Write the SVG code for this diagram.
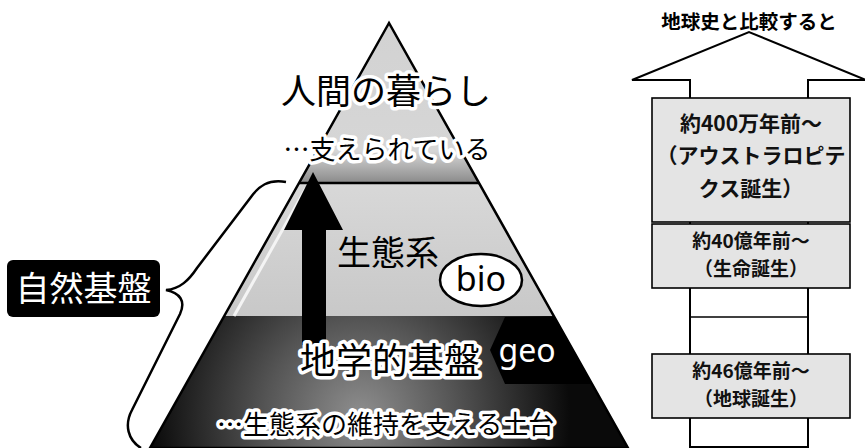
<svg xmlns="http://www.w3.org/2000/svg" width="865" height="448" viewBox="0 0 865 448">
<style>
.jp{font-family:"Noto Sans CJK JP","Noto Sans",sans-serif;}
.halo{paint-order:stroke;stroke:#fff;stroke-linejoin:round;}
.box{fill:#e4e4e4;stroke:#000;stroke-width:1.6;}
.rt{font-family:"Noto Sans CJK JP",sans-serif;font-size:21px;font-weight:700;text-anchor:middle;fill:#111;}
.rs{font-size:19px;}
.edge{fill:none;stroke:#000;stroke-width:2.5;}
</style>
<defs>
<clipPath id="tri"><polygon points="389,23 150,448 628,448"/></clipPath>
<linearGradient id="gTop" x1="0" y1="23" x2="0" y2="183" gradientUnits="userSpaceOnUse">
<stop offset="0" stop-color="#d2d2d2"/><stop offset="0.8" stop-color="#d6d6d6"/><stop offset="1" stop-color="#8a8a8a"/>
</linearGradient>
<linearGradient id="gMid" x1="0" y1="183" x2="0" y2="316" gradientUnits="userSpaceOnUse">
<stop offset="0" stop-color="#d8d8d8"/><stop offset="1" stop-color="#c8c8c8"/>
</linearGradient>
<radialGradient id="gBot" cx="360" cy="415" r="210" gradientUnits="userSpaceOnUse">
<stop offset="0" stop-color="#8e8e8e"/><stop offset="0.45" stop-color="#555"/><stop offset="1" stop-color="#0a0a0a"/>
</radialGradient>
</defs>

<g id="pyramid">
<g clip-path="url(#tri)">
<rect x="100" y="0" width="600" height="183" fill="url(#gTop)"/>
<rect x="100" y="183" width="600" height="133" fill="url(#gMid)"/>
<rect x="100" y="316" width="600" height="140" fill="url(#gBot)"/>
<line x1="306" y1="188" x2="234" y2="316" stroke="#f4f4f4" stroke-width="3"/>
<polygon points="490,350 505,317 640,317 640,384 505,384" fill="#000"/>
</g>
<polygon points="389,23 150,448 628,448" fill="none" stroke="#000" stroke-width="2.5"/>
<line x1="299" y1="183" x2="479" y2="183" stroke="#000" stroke-width="2.5"/>
</g>

<g id="arrow-up">
<polygon points="313,172 343,230 326,230 326,345 302,345 302,230 284,230" fill="#000"/>
</g>

<g id="human">
<text class="jp halo" x="386" y="104" font-size="35" text-anchor="middle" stroke-width="7">人間の暮らし</text>
<text class="jp halo" x="387" y="159" font-size="26" text-anchor="middle" stroke-width="7">…支えられている</text>
</g>

<g id="bio">
<text class="jp" x="337" y="265" font-size="34">生態系</text>
<ellipse cx="481" cy="280" rx="41" ry="26" fill="#fff" stroke="#000" stroke-width="2.5"/>
<text x="481" y="291" font-family="'Noto Sans',sans-serif" font-size="34" text-anchor="middle">bio</text>
</g>

<g id="geo">
<text x="527" y="362" font-family="'Noto Sans',sans-serif" font-size="32" text-anchor="middle" fill="#fff">geo</text>
<text class="jp halo" x="300" y="374" font-size="36" stroke-width="7">地学的基盤</text>
<text class="jp halo" x="217" y="434" font-size="26" stroke-width="7">…生態系の維持を支える土台</text>
</g>

<g id="shizen">
<rect x="7" y="260" width="153" height="57" rx="6" fill="#000"/>
<text class="jp" x="83.5" y="301" font-size="34" text-anchor="middle" fill="#fff">自然基盤</text>
</g>

<g id="connectors">
<path class="edge" d="M286,182 C268,179 259,186 251,197 L197,268 C189,280 180,289 166,290 C180,293 186,301 180,314 L132,410 C124,425 128,440 141,448"/>
</g>

<g id="timeline">
<text class="jp" x="749" y="29" font-size="19.5" font-weight="700" text-anchor="middle">地球史と比較すると</text>
<polygon points="690,447 690,80 632,80 749,32 866,80 808,80 808,447" fill="#fff" stroke="#000" stroke-width="2"/>
<line x1="690" y1="317" x2="808" y2="317" stroke="#000" stroke-width="1.5"/>
</g>

<g id="box1">
<rect class="box" x="652" y="98" width="198" height="124"/>
<text class="rt"><tspan x="751" y="131">約400万年前～</tspan><tspan x="751" y="163">（アウストラロピテ</tspan><tspan x="751" y="196">クス誕生）</tspan></text>
</g>

<g id="box2">
<rect class="box" x="652" y="224" width="198" height="64"/>
<text class="rt rs"><tspan x="751" y="248">約40億年前～</tspan><tspan x="751" y="276">（生命誕生）</tspan></text>
</g>

<g id="box3">
<rect class="box" x="652" y="354" width="198" height="64"/>
<text class="rt rs"><tspan x="751" y="378">約46億年前～</tspan><tspan x="751" y="406">（地球誕生）</tspan></text>
</g>
</svg>
